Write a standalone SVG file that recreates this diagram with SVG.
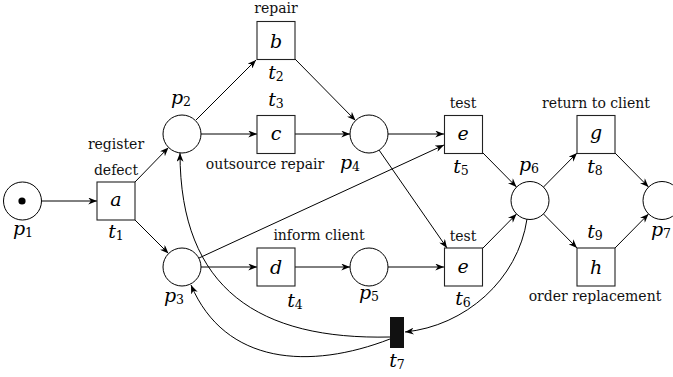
<svg xmlns="http://www.w3.org/2000/svg" width="673" height="377" viewBox="0 0 673 377">
<style>
.pl{fill:#fff;stroke:#000;stroke-width:1}
.tr{fill:#fff;stroke:#222;stroke-width:1.1}
.e{fill:none;stroke:#000;stroke-width:1;marker-end:url(#ah)}
.m{font-family:"DejaVu Serif",serif;font-style:italic;font-size:19px;text-anchor:middle;fill:#000}
.s{font-style:normal;font-size:12.5px}
.t{font-family:"DejaVu Serif",serif;font-size:14px;text-anchor:middle;fill:#111}
</style>
<defs>
<marker id="ah" viewBox="0 0 10 8" refX="10" refY="4" markerWidth="9" markerHeight="7" markerUnits="userSpaceOnUse" orient="auto">
<path d="M0,0 L10,4 L0,8 L3,4 Z" fill="#000"/>
</marker>
</defs>
<rect width="673" height="377" fill="#fff"/>
<g id="connectors">
<line class="e" x1="42" y1="201" x2="97" y2="201"/>
<line class="e" x1="135" y1="182" x2="168.5" y2="147.5"/>
<line class="e" x1="135" y1="220" x2="168.5" y2="253.5"/>
<line class="e" x1="196" y1="120" x2="256" y2="60"/>
<line class="e" x1="201" y1="134" x2="257" y2="134"/>
<line class="e" x1="295" y1="59" x2="355.5" y2="120.5"/>
<line class="e" x1="295" y1="134" x2="350" y2="134"/>
<line class="e" x1="388" y1="134" x2="444" y2="134"/>
<line class="e" x1="379" y1="150" x2="447" y2="248"/>
<line class="e" x1="199" y1="258" x2="444" y2="145"/>
<line class="e" x1="201" y1="267" x2="257" y2="267"/>
<line class="e" x1="295" y1="267" x2="350" y2="267"/>
<line class="e" x1="388" y1="267" x2="444" y2="267"/>
<line class="e" x1="483" y1="153" x2="516.5" y2="187"/>
<line class="e" x1="483" y1="248" x2="516.5" y2="214"/>
<line class="e" x1="543.5" y1="187" x2="577" y2="153"/>
<line class="e" x1="543.5" y1="214" x2="577" y2="248"/>
<line class="e" x1="615" y1="153" x2="648.5" y2="187"/>
<line class="e" x1="615" y1="248" x2="648.5" y2="214"/>
<path class="e" d="M527,219 C518,280 465,326 405,332"/>
<path class="e" d="M390,337 C260,340 180,290 180,153"/>
<path class="e" d="M390,339 C310,370 225,365 191,285"/>
</g>
<g id="p1"><circle class="pl" cx="22.5" cy="201" r="19"/><circle cx="22" cy="201" r="3.6" fill="#000"/><text class="m" x="23" y="235">p<tspan class="s" dy="2">1</tspan></text></g>
<g id="t1"><rect class="tr" x="97" y="182" width="38" height="38"/><text class="m" x="116" y="206">a</text><text class="m" x="116" y="238">t<tspan class="s" dy="2">1</tspan></text><text class="t" x="116" y="149">register</text><text class="t" x="116" y="175">defect</text></g>
<g id="p2"><circle class="pl" cx="182" cy="134" r="19"/><text class="m" x="181" y="104">p<tspan class="s" dy="2">2</tspan></text></g>
<g id="t2"><rect class="tr" x="257" y="21.5" width="38" height="38"/><text class="m" x="276" y="48">b</text><text class="m" x="276" y="79">t<tspan class="s" dy="2">2</tspan></text><text class="t" x="276" y="13">repair</text></g>
<g id="t3"><rect class="tr" x="257" y="115.5" width="38" height="38"/><text class="m" x="276" y="140">c</text><text class="m" x="276" y="106">t<tspan class="s" dy="2">3</tspan></text><text class="t" x="265" y="169">outsource repair</text></g>
<g id="p3"><circle class="pl" cx="182" cy="267" r="19"/><text class="m" x="174" y="302">p<tspan class="s" dy="2">3</tspan></text></g>
<g id="t4"><rect class="tr" x="257" y="248" width="38" height="38"/><text class="m" x="276" y="274">d</text><text class="m" x="295" y="307">t<tspan class="s" dy="2">4</tspan></text><text class="t" x="319" y="240">inform client</text></g>
<g id="p4"><circle class="pl" cx="369" cy="134" r="19"/><text class="m" x="350" y="169">p<tspan class="s" dy="2">4</tspan></text></g>
<g id="p5"><circle class="pl" cx="369" cy="267" r="19"/><text class="m" x="369" y="299">p<tspan class="s" dy="2">5</tspan></text></g>
<g id="t5"><rect class="tr" x="444.5" y="115.5" width="38" height="38"/><text class="m" x="463" y="140">e</text><text class="m" x="461" y="173">t<tspan class="s" dy="2">5</tspan></text><text class="t" x="463" y="108">test</text></g>
<g id="t6"><rect class="tr" x="444.5" y="248" width="38" height="38"/><text class="m" x="463" y="273">e</text><text class="m" x="463" y="305">t<tspan class="s" dy="2">6</tspan></text><text class="t" x="463" y="241">test</text></g>
<g id="p6"><circle class="pl" cx="530" cy="200.5" r="19"/><text class="m" x="529" y="171">p<tspan class="s" dy="2">6</tspan></text></g>
<g id="t8"><rect class="tr" x="577" y="115.5" width="38" height="38"/><text class="m" x="596" y="139">g</text><text class="m" x="595" y="173">t<tspan class="s" dy="2">8</tspan></text><text class="t" x="596" y="108">return to client</text></g>
<g id="t9"><rect class="tr" x="577" y="248" width="38" height="38"/><text class="m" x="596" y="274">h</text><text class="m" x="595" y="238">t<tspan class="s" dy="2">9</tspan></text><text class="t" x="595" y="301">order replacement</text></g>
<g id="p7"><circle class="pl" cx="662" cy="200.5" r="19"/><text class="m" x="661" y="236">p<tspan class="s" dy="2">7</tspan></text></g>
<g id="t7"><rect x="390" y="317" width="14" height="31" fill="#111"/><text class="m" x="397" y="367">t<tspan class="s" dy="2">7</tspan></text></g>
</svg>
